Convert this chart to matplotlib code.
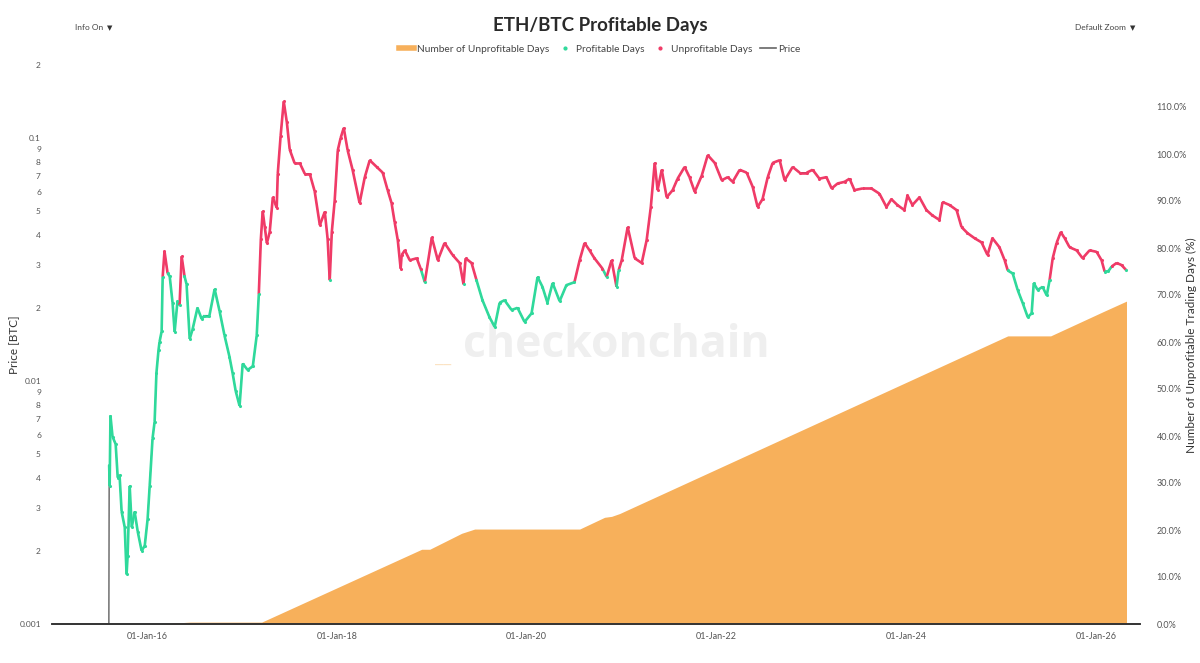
import matplotlib
matplotlib.use("Agg")
import matplotlib.pyplot as plt
import matplotlib.dates as mdates
import numpy as np
import pandas as pd
from matplotlib.collections import LineCollection
from matplotlib.lines import Line2D
from matplotlib.ticker import FixedLocator, FixedFormatter, NullLocator

plt.rcParams["font.family"] = ["Lato", "DejaVu Sans"]

# ETH/BTC price
price_dates = [
    "2015-08-08", "2015-08-09", "2015-08-11", "2015-08-14", "2015-08-22", "2015-09-03",
    "2015-09-11", "2015-09-18", "2015-09-26", "2015-10-08", "2015-10-15", "2015-10-19",
    "2015-10-27", "2015-11-04", "2015-11-15", "2015-11-27", "2015-12-12", "2015-12-24",
    "2016-01-04", "2016-01-12", "2016-01-23", "2016-01-31", "2016-02-07", "2016-02-15",
    "2016-02-19", "2016-02-27", "2016-03-02", "2016-03-09", "2016-03-21", "2016-03-29",
    "2016-04-09", "2016-04-17", "2016-04-28", "2016-05-06", "2016-05-14", "2016-05-25",
    "2016-06-02", "2016-06-14", "2016-06-25", "2016-07-14", "2016-07-30", "2016-08-10",
    "2016-08-29", "2016-09-18", "2016-10-07", "2016-10-26", "2016-11-14", "2016-11-26",
    "2016-12-08", "2016-12-23", "2017-01-04", "2017-01-23", "2017-02-12", "2017-02-27",
    "2017-03-07", "2017-03-15", "2017-03-22", "2017-03-30", "2017-04-07", "2017-04-18",
    "2017-04-30", "2017-05-15", "2017-05-19", "2017-05-30", "2017-06-11", "2017-06-23",
    "2017-07-04", "2017-07-23", "2017-08-12", "2017-08-31", "2017-09-19", "2017-10-08",
    "2017-10-28", "2017-11-16", "2017-11-27", "2017-12-05", "2017-12-13", "2017-12-24",
    "2018-01-05", "2018-01-16", "2018-01-28", "2018-02-12", "2018-03-03", "2018-03-30",
    "2018-04-19", "2018-05-08", "2018-06-04", "2018-06-27", "2018-07-16", "2018-07-31",
    "2018-08-12", "2018-08-24", "2018-09-04", "2018-09-08", "2018-09-20", "2018-10-09",
    "2018-11-05", "2018-11-20", "2018-12-06", "2019-01-02", "2019-01-25", "2019-02-20",
    "2019-03-23", "2019-04-19", "2019-05-04", "2019-05-12", "2019-06-04", "2019-06-23",
    "2019-07-16", "2019-08-12", "2019-09-01", "2019-09-20", "2019-10-09", "2019-11-05",
    "2019-11-28", "2019-12-25", "2020-01-21", "2020-02-13", "2020-03-03", "2020-03-22",
    "2020-04-11", "2020-05-08", "2020-06-03", "2020-07-04", "2020-07-24", "2020-08-12",
    "2020-08-31", "2020-09-19", "2020-10-20", "2020-11-05", "2020-11-24", "2020-12-13",
    "2020-12-21", "2021-01-02", "2021-01-25", "2021-02-21", "2021-03-20", "2021-04-08",
    "2021-04-24", "2021-05-09", "2021-05-20", "2021-06-05", "2021-06-24", "2021-07-17",
    "2021-08-05", "2021-09-01", "2021-09-20", "2021-10-10", "2021-11-06", "2021-11-29",
    "2021-12-26", "2022-01-22", "2022-02-14", "2022-03-05", "2022-04-01", "2022-04-28",
    "2022-05-21", "2022-06-09", "2022-06-28", "2022-07-18", "2022-08-06", "2022-09-02",
    "2022-09-21", "2022-10-22", "2022-11-18", "2022-12-15", "2023-01-07", "2023-02-02",
    "2023-03-01", "2023-03-21", "2023-04-13", "2023-05-10", "2023-05-29", "2023-06-17",
    "2023-07-18", "2023-08-21", "2023-09-21", "2023-10-18", "2023-11-06", "2023-11-29",
    "2023-12-26", "2024-01-07", "2024-01-26", "2024-02-22", "2024-03-20", "2024-04-12",
    "2024-05-09", "2024-05-21", "2024-06-17", "2024-07-14", "2024-08-02", "2024-08-25",
    "2024-09-21", "2024-10-18", "2024-11-10", "2024-11-29", "2024-12-26", "2025-01-15",
    "2025-01-27", "2025-02-15", "2025-03-06", "2025-03-25", "2025-04-14", "2025-04-29",
    "2025-05-07", "2025-05-22", "2025-06-10", "2025-06-26", "2025-07-07", "2025-07-19",
    "2025-08-03", "2025-08-19", "2025-09-03", "2025-09-22", "2025-10-19", "2025-11-11",
    "2025-12-08", "2026-01-04", "2026-01-23", "2026-02-04", "2026-02-18", "2026-03-03",
    "2026-03-22", "2026-04-10", "2026-04-29",
]
price_btc = [
    0.001, 0.0045, 0.0037, 0.0072, 0.0059, 0.0055,
    0.0040, 0.0041, 0.0029, 0.0025, 0.0016, 0.0019,
    0.0037, 0.0025, 0.0029, 0.0024, 0.0020, 0.0021,
    0.0027, 0.0037, 0.0058, 0.0068, 0.0108, 0.0134,
    0.0145, 0.0160, 0.0268, 0.0342, 0.0277, 0.0270,
    0.0210, 0.0159, 0.0213, 0.0205, 0.0326, 0.0270,
    0.0250, 0.0149, 0.0163, 0.0200, 0.0180, 0.0186,
    0.0186, 0.0239, 0.0194, 0.0154, 0.0126, 0.0108,
    0.0091, 0.0079, 0.0118, 0.0111, 0.0115, 0.0154,
    0.0227, 0.0384, 0.0500, 0.0430, 0.0369, 0.0410,
    0.0570, 0.0516, 0.0713, 0.1020, 0.1415, 0.1160,
    0.0896, 0.0787, 0.0787, 0.0713, 0.0713, 0.0604,
    0.0438, 0.0497, 0.0384, 0.0260, 0.0410, 0.0550,
    0.0890, 0.1000, 0.1100, 0.0890, 0.0740, 0.0540,
    0.0690, 0.0810, 0.0760, 0.0720, 0.0610, 0.0540,
    0.0450, 0.0380, 0.0290, 0.0330, 0.0345, 0.0314,
    0.0320, 0.0290, 0.0255, 0.0390, 0.0314, 0.0370,
    0.0330, 0.0306, 0.0250, 0.0320, 0.0306, 0.0260,
    0.0215, 0.0183, 0.0167, 0.0210, 0.0215, 0.0196,
    0.0200, 0.0175, 0.0190, 0.0268, 0.0244, 0.0210,
    0.0253, 0.0213, 0.0248, 0.0255, 0.0314, 0.0370,
    0.0345, 0.0320, 0.0290, 0.0268, 0.0314, 0.0244,
    0.0285, 0.0314, 0.0430, 0.0320, 0.0306, 0.0380,
    0.0520, 0.0790, 0.0610, 0.0740, 0.0570, 0.0610,
    0.0680, 0.0760, 0.0690, 0.0600, 0.0700, 0.0850,
    0.0790, 0.0670, 0.0690, 0.0660, 0.0740, 0.0720,
    0.0630, 0.0520, 0.0560, 0.0690, 0.0790, 0.0810,
    0.0670, 0.0760, 0.0720, 0.0720, 0.0740, 0.0680,
    0.0690, 0.0620, 0.0650, 0.0660, 0.0680, 0.0610,
    0.0620, 0.0620, 0.0590, 0.0520, 0.0560, 0.0530,
    0.0505, 0.0580, 0.0530, 0.0570, 0.0505, 0.0480,
    0.0460, 0.0545, 0.0530, 0.0505, 0.0430, 0.0406,
    0.0387, 0.0372, 0.0330, 0.0387, 0.0355, 0.0314,
    0.0285, 0.0277, 0.0237, 0.0210, 0.0183, 0.0190,
    0.0253, 0.0237, 0.0244, 0.0225, 0.0260, 0.0320,
    0.0370, 0.0410, 0.0387, 0.0355, 0.0345, 0.0320,
    0.0345, 0.0340, 0.0314, 0.0282, 0.0283, 0.0296,
    0.0306, 0.0300, 0.0285,
]

# running share of unprofitable days (%)
unprof_dates = [
    "2015-08-08", "2016-02-19", "2016-06-14", "2017-03-18", "2018-11-24", "2018-12-25",
    "2019-04-27", "2019-06-16", "2020-07-24", "2020-10-28", "2020-11-24", "2020-12-25",
    "2025-01-27", "2025-07-11", "2026-01-31", "2026-04-29",
]
unprof_pct = [
    0.0, 0.0, 0.4, 0.4, 15.9, 15.9,
    19.3, 20.2, 20.2, 22.7, 22.9, 23.5,
    61.3, 61.3, 66.5, 68.7,
]

GREEN = "#2fd99b"
RED = "#f03b67"
ORANGE = "#f7b05b"
GREY_TXT = "#555555"
Y_MIN, Y_MAX = 0.001, 0.2094

p_dates = pd.to_datetime(price_dates)
p_vals = np.array(price_btc)
u_dates = pd.to_datetime(unprof_dates)
u_vals = np.array(unprof_pct)

current = p_vals[-1]
unprofitable = p_vals > current
on_chart = p_vals > Y_MIN

fig = plt.figure(figsize=(12, 6.63), dpi=100)
fig.patch.set_facecolor("white")
pos = [52 / 1200, 39 / 663, 1088 / 1200, 564 / 663]

ax_pct = fig.add_axes(pos)
ax_price = ax_pct.twinx()

# area on the percent axis
ax_pct.fill_between(u_dates, 0, u_vals, color=ORANGE, lw=0, zorder=1)
ax_pct.set_ylim(0, 120)
ax_pct.yaxis.set_major_locator(FixedLocator(np.arange(0, 111, 10)))
ax_pct.yaxis.set_major_formatter(FixedFormatter([f"{v:.1f}%" for v in np.arange(0, 111, 10)]))
ax_pct.yaxis.tick_right()
ax_pct.tick_params(axis="y", length=0, labelsize=6.5, labelcolor=GREY_TXT, pad=12)

# watermark
ax_pct.text(0.386, 0.479, "checkonchain", transform=fig.transFigure, fontsize=32,
            fontweight="bold", family=["Open Sans", "DejaVu Sans"], color="#efefef",
            ha="left", va="center", zorder=0)
ax_pct.text(0.3625, 0.452, "__", transform=fig.transFigure, fontsize=14,
            fontweight="bold", family=["Open Sans", "DejaVu Sans"], color="#fbe3c4",
            ha="left", va="baseline", zorder=0)

# price line coloured by profitability
x_num = mdates.date2num(p_dates)
ax_price.plot(p_dates, p_vals, color="#3a3a3a", lw=0.8, zorder=2)
pts = np.column_stack([x_num, p_vals])
segs, seg_cols = [], []
for i in range(len(p_vals) - 1):
    a, b = p_vals[i], p_vals[i + 1]
    if a <= Y_MIN:
        continue
    if a > current and b > current:
        col = RED
    elif a <= current and b <= current:
        col = GREEN
    else:
        col = RED if max(a, b) > current * 1.05 else GREEN
    segs.append(pts[i:i + 2])
    seg_cols.append(col)
ax_price.add_collection(LineCollection(segs, colors=seg_cols, linewidths=1.9, zorder=3))
green_pts = on_chart & ~unprofitable
ax_price.scatter(p_dates[green_pts], p_vals[green_pts], s=5, color=GREEN, lw=0, zorder=4)
ax_price.scatter(p_dates[unprofitable], p_vals[unprofitable], s=5, color=RED, lw=0, zorder=4)

ax_price.set_yscale("log")
ax_price.set_ylim(Y_MIN, Y_MAX)
ax_price.yaxis.tick_left()
ticks, labels = [], []
for decade in [0.001, 0.01, 0.1]:
    for k in range(1, 10):
        v = k * decade
        if v <= Y_MAX:
            ticks.append(v)
            labels.append(f"{decade:g}" if k == 1 else str(k))
ax_price.yaxis.set_major_locator(FixedLocator(ticks))
ax_price.yaxis.set_major_formatter(FixedFormatter(labels))
ax_price.yaxis.set_minor_locator(NullLocator())
ax_price.tick_params(axis="y", length=0, labelsize=6, labelcolor=GREY_TXT, pad=8)

fig.text(0.011, 0.48, "Price [BTC]", rotation=90, ha="center", va="center",
         fontsize=8.5, color="#333333")
fig.text(0.9925, 0.48, "Number of Unprofitable Trading Days (%)", rotation=90,
         ha="center", va="center", fontsize=8.5, color="#333333")

ax_pct.set_xlim(pd.Timestamp("2015-01-01"), pd.Timestamp("2026-06-20"))
ax_pct.xaxis.set_major_locator(mdates.YearLocator(2, month=1, day=1))
ax_pct.xaxis.set_major_formatter(mdates.DateFormatter("%d-%b-%y"))
ax_pct.tick_params(axis="x", length=0, labelsize=6.5, labelcolor=GREY_TXT, pad=6)

for a in (ax_pct, ax_price):
    for side in ("left", "right", "top"):
        a.spines[side].set_visible(False)
    a.spines["bottom"].set_color("#333333")
    a.spines["bottom"].set_linewidth(1.2)

# title, legend and header controls
fig.text(0.5, 0.962, "ETH/BTC Profitable Days", ha="center", va="center",
         fontsize=13.5, fontweight="bold", color="#2a2a2a")
handles = [
    Line2D([], [], color=ORANGE, lw=4),
    Line2D([], [], color=GREEN, marker="o", ms=2, lw=0),
    Line2D([], [], color=RED, marker="o", ms=2, lw=0),
    Line2D([], [], color="#666666", lw=1.2),
]
fig.legend(handles, ["Number of Unprofitable Days", "Profitable Days", "Unprofitable Days", "Price"],
           loc="center", bbox_to_anchor=(0.5, 0.926), ncol=4, frameon=False, fontsize=7.3,
           handlelength=1.5, handletextpad=0.3, columnspacing=0.8, labelcolor="#444444")
fig.text(0.0625, 0.959, "Info On", fontsize=6, color="#444444", va="center")
fig.text(0.089, 0.959, "\u25bc", fontsize=5, color="#333333", va="center")
fig.text(0.896, 0.959, "Default Zoom", fontsize=6, color="#444444", va="center")
fig.text(0.942, 0.959, "\u25bc", fontsize=5, color="#333333", va="center")

fig.savefig("out.png", dpi=100)
